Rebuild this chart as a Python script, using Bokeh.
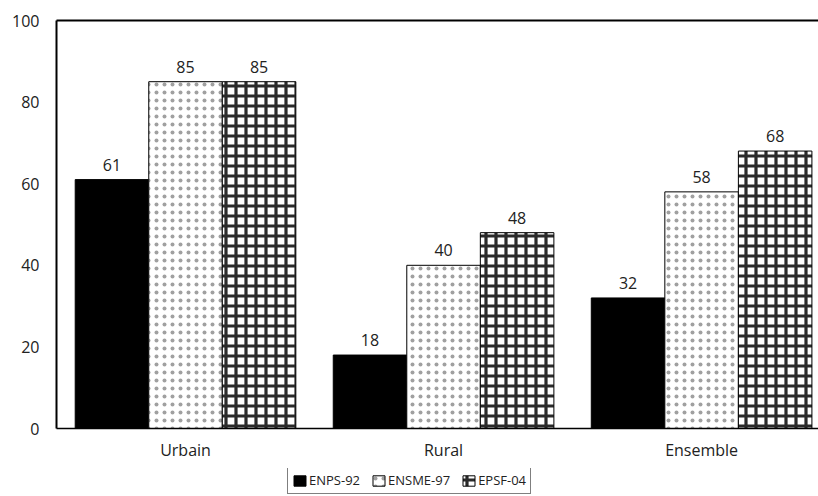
from bokeh.plotting import figure
from bokeh.layouts import column
from bokeh.models import (ColumnDataSource, Range1d, FixedTicker, Legend, LegendItem,
                          LinearAxis)
from bokeh.core.properties import value
from bokeh.embed import file_html
from bokeh.resources import INLINE
import numpy as np

# Zones and survey series
categories = ["Urbain", "Rural", "Ensemble"]
enps_92 = [61, 18, 32]
ensme_97 = [85, 40, 58]
epsf_04 = [85, 48, 68]
series_names = ["ENPS-92", "ENSME-97", "EPSF-04"]
y_ticks = [0, 20, 40, 60, 80, 100]

FONT = "Open Sans"
FSIZE = "16px"
TXT = "#222222"
centers = np.arange(len(categories)) + 0.5
bar_w = 0.285

p = figure(frame_width=762, frame_height=408,
           x_range=Range1d(0, 2.953), y_range=Range1d(0, 100),
           output_backend="svg", toolbar_location=None,
           min_border_left=56, min_border_right=0, min_border_top=20,
           min_border_bottom=40)
p.outline_line_color = None
p.xgrid.visible = False
p.ygrid.visible = False

styles = [
    dict(fill_color="black"),
    dict(fill_color="white", hatch_pattern=".", hatch_color="#a0a0a0",
         hatch_scale=8, hatch_weight=0.6),
    dict(fill_color="white", hatch_pattern="+", hatch_color="#2a2a2a",
         hatch_scale=10, hatch_weight=3.2),
]

for i, (vals, st) in enumerate(zip([enps_92, ensme_97, epsf_04], styles)):
    xs = centers + (i - 1) * bar_w
    src = ColumnDataSource(dict(x=xs, top=vals, label=[str(v) for v in vals]))
    p.vbar(x="x", top="top", width=bar_w, bottom=0, source=src,
           line_color="black", line_width=1, **st)
    p.text(x="x", y="top", text="label", source=src, text_align="center",
           text_baseline="bottom", y_offset=-9, text_font=value(FONT),
           text_font_size=FSIZE, text_color=TXT)

# Left axis
ya = p.yaxis[0]
ya.ticker = FixedTicker(ticks=y_ticks)
ya.major_tick_line_color = None
ya.minor_tick_line_color = None
ya.major_tick_out = 0
ya.minor_tick_out = 0
ya.axis_line_color = "black"
ya.axis_line_width = 2
ya.major_label_text_font = FONT
ya.major_label_text_font_size = FSIZE
ya.major_label_text_color = TXT
ya.major_label_standoff = 17

# Bottom axis with zone labels
xa = p.xaxis[0]
xa.ticker = FixedTicker(ticks=list(centers))
xa.major_label_overrides = {float(c): n for c, n in zip(centers, categories)}
xa.major_tick_line_color = None
xa.minor_tick_line_color = None
xa.major_tick_out = 0
xa.major_tick_in = 0
xa.minor_tick_out = 0
xa.axis_line_color = "black"
xa.axis_line_width = 1.5
xa.major_label_text_font = FONT
xa.major_label_text_font_size = FSIZE
xa.major_label_text_color = TXT
xa.major_label_standoff = 10

# Top frame line
top_axis = LinearAxis(ticker=FixedTicker(ticks=[]), major_label_text_font_size="0px",
                      axis_line_color="black", axis_line_width=2,
                      major_tick_line_color=None, minor_tick_line_color=None,
                      major_tick_out=0, minor_tick_out=0)
p.add_layout(top_axis, "above")

# Legend strip under the chart (swatch bars sit outside the visible range)
lg = figure(width=818, height=28, x_range=Range1d(0, 1), y_range=Range1d(0, 1),
            x_axis_type=None, y_axis_type=None, output_backend="svg",
            toolbar_location=None, min_border=0, min_border_left=0)
lg.outline_line_color = None
lg.xgrid.visible = False
lg.ygrid.visible = False
swatches = []
for st in styles:
    src = ColumnDataSource(dict(x=[5.0], top=[1.0]))
    swatches.append(lg.vbar(x="x", top="top", width=0.1, bottom=0, source=src,
                            line_color="black", line_width=1, **st))

legend = Legend(items=[LegendItem(label=n, renderers=[r]) for n, r in zip(series_names, swatches)],
                orientation="horizontal", location=(231, 2),
                label_text_font=FONT, label_text_font_size="13px",
                label_text_color=TXT, glyph_width=15, glyph_height=13,
                label_standoff=2, spacing=11, padding=4, margin=0,
                label_height=14,
                border_line_color="black", border_line_width=1,
                background_fill_color="white", background_fill_alpha=1)
lg.add_layout(legend, "center")

layout = column(p, lg, spacing=0)
open("out.html", "w").write(file_html(layout, INLINE))
